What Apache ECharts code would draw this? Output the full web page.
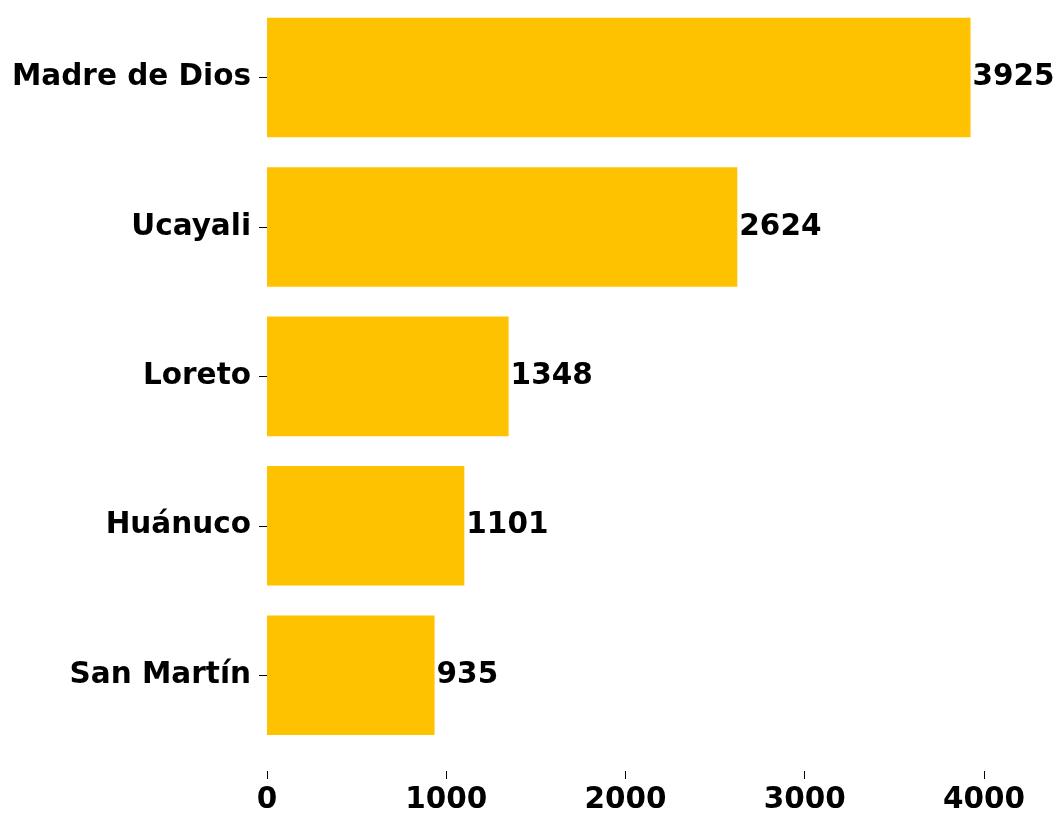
<!DOCTYPE html>
<html>
<head>
<meta charset="utf-8">
<script src="https://cdn.jsdelivr.net/npm/echarts@6/dist/echarts.min.js"></script>
<style>
  html, body { margin: 0; padding: 0; background: #fff; }
  #bar { width: 1054px; height: 818px; }
</style>
</head>
<body>
<div id="bar"></div>
<script>
// categories top to bottom
var regions = ['Madre de Dios', 'Ucayali', 'Loreto', 'Huánuco', 'San Martín'];
var counts = [3925, 2624, 1348, 1101, 935];
var xTicks = [0, 1000, 2000, 3000, 4000];

var myChart = echarts.init(document.getElementById('bar'));
var font = 'DejaVu Sans';
var fs = 29.5;

myChart.setOption({
    animation: false,
    grid: { left: 267, right: 48.3, top: 2.8, bottom: 68 },
    xAxis: {
        type: 'value',
        min: 0,
        max: 4121.25, // 5% margin past the largest bar
        offset: 21,
        axisLine: { show: false },
        splitLine: { show: false },
        axisTick: { show: true, length: 8, customValues: xTicks, lineStyle: { color: '#000', width: 1 } },
        axisLabel: {
            customValues: xTicks,
            formatter: function (v) { return String(v); },
            margin: 14,
            color: '#000',
            fontFamily: font,
            fontWeight: 'bold',
            fontSize: fs
        }
    },
    yAxis: {
        type: 'category',
        data: regions,
        inverse: true,
        axisLine: { show: false },
        axisTick: { show: true, alignWithLabel: true, length: 8, lineStyle: { color: '#000', width: 1 } },
        axisLabel: {
            margin: 16,
            padding: [6, 0, 0, 0],
            color: '#000',
            fontFamily: font,
            fontWeight: 'bold',
            fontSize: fs
        }
    },
    series: [{
        type: 'bar',
        data: counts,
        barWidth: '80%',
        itemStyle: { color: '#FFC200' },
        label: {
            show: true,
            position: 'right',
            distance: 2,
            padding: [2, 0, 0, 0],
            color: '#000',
            fontFamily: font,
            fontWeight: 'bold',
            fontSize: fs
        }
    }]
});
</script>
</body>
</html>
